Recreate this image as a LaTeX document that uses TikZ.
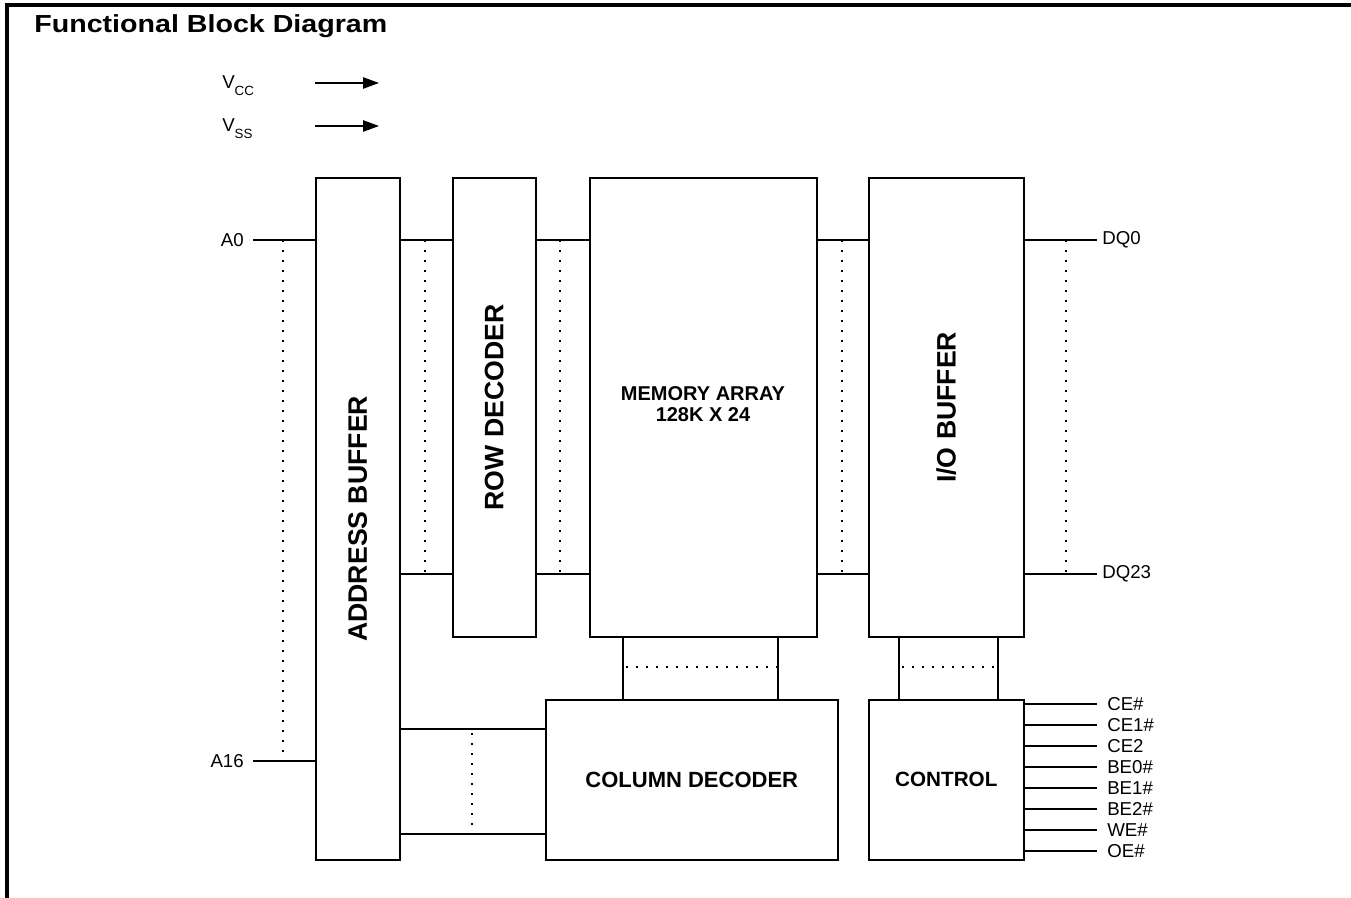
\documentclass[tikz,border=0pt]{standalone}
\usepackage{fontspec}
\setmainfont{Liberation Sans}
\usetikzlibrary{arrows.meta}
\tikzset{
  blk/.style={draw=black, line width=1.2pt, fill=white, inner sep=0pt, anchor=north west},
  wire/.style={line width=1.1pt},
  dots/.style={line width=1.5pt, dash pattern=on 1.4pt off 6.1pt},
  lbl/.style={inner sep=0pt, font=\fontsize{14}{16}\selectfont},
  vtext/.style={inner sep=0pt, rotate=90, font=\fontsize{20}{24}\selectfont\bfseries},
  htext/.style={inner sep=0pt, align=center},
  pwr/.style={line width=1.1pt, -{Triangle[length=12pt, width=8.5pt]}},
}
\begin{document}
\begin{tikzpicture}[x=0.75pt, y=-0.75pt]
\useasboundingbox (0,0) rectangle (1351,898);
% frame
\draw[line width=2.4pt] (7,898) -- (7,5) -- (1351,5);
\node[inner sep=0pt, anchor=base west, font=\fontsize{18.5}{22}\selectfont\bfseries, xscale=1.16, transform shape] (title) at (34,33) {Functional Block Diagram};

% power
\node[lbl, anchor=base west] (vcc) at (222,89) {V\raisebox{-5pt}{\fontsize{10}{10}\selectfont CC}};
\node[lbl, anchor=base west] (vss) at (222,132) {V\raisebox{-5pt}{\fontsize{10}{10}\selectfont SS}};
\coordinate (vcca) at (315,83); \coordinate (vccb) at (379,83);
\coordinate (vssa) at (315,126); \coordinate (vssb) at (379,126);
\draw[pwr] (vcca) -- (vccb);
\draw[pwr] (vssa) -- (vssb);

% blocks
\node[blk, minimum width=63pt, minimum height=511.5pt] (ab) at (315,177) {};
\node[blk, minimum width=62.25pt, minimum height=344.25pt] (rd) at (452,177) {};
\node[blk, minimum width=170.25pt, minimum height=344.25pt] (ma) at (589,177) {};
\node[blk, minimum width=116.25pt, minimum height=344.25pt] (io) at (868,177) {};
\node[blk, minimum width=219pt, minimum height=120pt] (cd) at (545,699) {};
\node[blk, minimum width=116.25pt, minimum height=120pt] (ct) at (868,699) {};

\node[vtext] (abt) at (ab.center) {ADDRESS BUFFER};
\node[vtext] (rdt) at (rd.center) {ROW DECODER};
\node[vtext] (iot) at (io.center) {I/O BUFFER};
\node[htext, font=\fontsize{15}{15.75}\selectfont\bfseries] (mat) at (703,404) {MEMORY ARRAY\\128K X 24};
\node[htext, font=\fontsize{16.5}{20}\selectfont\bfseries] (cdt) at (cd.center) {COLUMN DECODER};
\node[htext, font=\fontsize{15.5}{20}\selectfont\bfseries] (ctt) at (ct.center) {CONTROL};

% row coordinates
\coordinate (ytop) at (0,240);
\coordinate (ybot) at (0,574);
\coordinate (ya16) at (0,761);
\coordinate (yc1) at (0,729);
\coordinate (yc2) at (0,834);

% address inputs
\coordinate (a0e) at (253,240);
\coordinate (a16e) at (253,761);
\node[lbl, anchor=east] (A0) at (244,240) {A0};
\node[lbl, anchor=east] (A16) at (244,761) {A16};
\draw[wire] (a0e) -- (ab.west |- ytop);
\draw[wire] (a16e) -- (ab.west |- ya16);
\draw[dots] (283,240) -- (283,761);

% address buffer -> row decoder
\draw[wire] (ab.east |- ytop) -- (rd.west |- ytop);
\draw[wire] (ab.east |- ybot) -- (rd.west |- ybot);
\draw[dots] (425,240) -- (425,574);
% row decoder -> memory
\draw[wire] (rd.east |- ytop) -- (ma.west |- ytop);
\draw[wire] (rd.east |- ybot) -- (ma.west |- ybot);
\draw[dots] (560,240) -- (560,574);
% memory -> io
\draw[wire] (ma.east |- ytop) -- (io.west |- ytop);
\draw[wire] (ma.east |- ybot) -- (io.west |- ybot);
\draw[dots] (842,240) -- (842,574);
% io -> DQ
\coordinate (dq0e) at (1097,240);
\coordinate (dq23e) at (1097,574);
\node[lbl, anchor=west] (DQ0) at (1102,240) {DQ0};
\node[lbl, anchor=west] (DQ23) at (1102,574) {DQ23};
\draw[wire] (io.east |- ytop) -- (dq0e);
\draw[wire] (io.east |- ybot) -- (dq23e);
\draw[dots] (1066,240) -- (1066,574);

% memory -> column decoder
\coordinate (xm1) at (623,0);
\coordinate (xm2) at (778,0);
\draw[wire] (ma.south -| xm1) -- (cd.north -| xm1);
\draw[wire] (ma.south -| xm2) -- (cd.north -| xm2);
\draw[dots] (626,667) -- (778,667);
% io -> control
\coordinate (xi1) at (899,0);
\coordinate (xi2) at (998,0);
\draw[wire] (io.south -| xi1) -- (ct.north -| xi1);
\draw[wire] (io.south -| xi2) -- (ct.north -| xi2);
\draw[dots] (902,667) -- (998,667);
% address buffer -> column decoder
\draw[wire] (ab.east |- yc1) -- (cd.west |- yc1);
\draw[wire] (ab.east |- yc2) -- (cd.west |- yc2);
\draw[dots] (472,733) -- (472,834);

% control signals
\foreach \name/\txt [count=\i from 0] in {ce/CE\#, ceone/CE1\#, cetwo/CE2, bezero/BE0\#, beone/BE1\#, betwo/BE2\#, we/WE\#, oe/OE\#}{
  \coordinate (\name y) at (0,704+21*\i);
  \coordinate (\name e) at (1097,704+21*\i);
  \node[lbl, anchor=west] (\name) at (1107,704+21*\i) {\txt};
  \draw[wire] (ct.east |- \name y) -- (\name e);
}
\end{tikzpicture}
\end{document}
